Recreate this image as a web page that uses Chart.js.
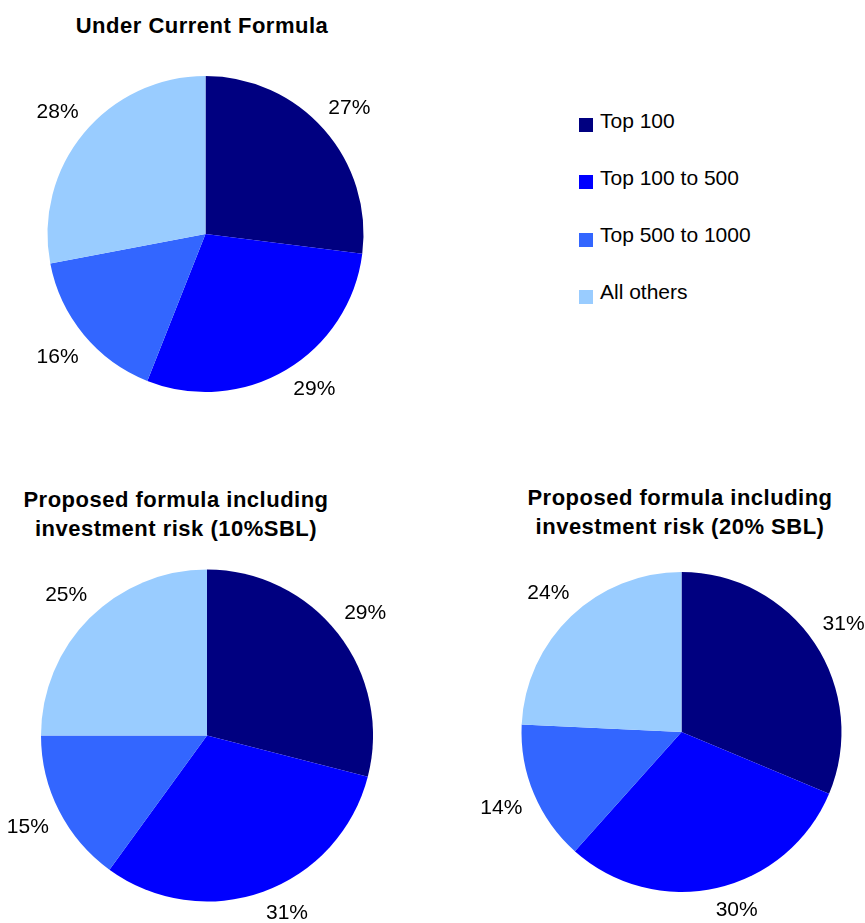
<!DOCTYPE html>
<html>
<head>
<meta charset="utf-8">
<script src="https://cdn.jsdelivr.net/npm/chart.js@4.4.1/dist/chart.umd.min.js"></script>
<style>
  html, body { margin: 0; padding: 0; background: #fff; width: 865px; height: 923px; overflow: hidden; }
  body { position: relative; font-family: "Liberation Sans", Arial, sans-serif; }
  .box { position: absolute; }
  .title { position: absolute; font-weight: bold; font-size: 22px; letter-spacing: 0.5px; color: #000; text-align: center; white-space: nowrap; transform: translateX(-50%); }
  .leg-sq { position: absolute; width: 14px; height: 14px; }
  .leg-tx { position: absolute; font-size: 21px; line-height: 21px; color: #000; white-space: nowrap; }
</style>
</head>
<body>
<div class="title" style="left:202px; top:15px; line-height:22px;">Under Current Formula</div>
<div class="title" style="left:176px; top:486px; line-height:28.5px;">Proposed formula including<br>investment risk (10%SBL)</div>
<div class="title" style="left:680px; top:484px; line-height:28.5px;">Proposed formula including<br>investment risk (20% SBL)</div>

<div id="legend"></div>

<div class="box" style="left:0px; top:0px; width:430px; height:440px;"><canvas id="c1"></canvas></div>
<div class="box" style="left:0px; top:440px; width:432px; height:483px;"><canvas id="c2"></canvas></div>
<div class="box" style="left:432px; top:440px; width:433px; height:483px;"><canvas id="c3"></canvas></div>

<script>
// ---- data ----
const categories = ["Top 100", "Top 100 to 500", "Top 500 to 1000", "All others"];
const currentFormula = [27, 29, 16, 28];
const proposed10SBL = [29, 31, 15, 25];
const proposed20SBL = [31, 30, 14, 24];
const sliceColors = ["#000080", "#0000FF", "#3366FF", "#99CCFF"];

// ---- legend (HTML) ----
const legend = document.getElementById('legend');
categories.forEach((name, i) => {
  const top = 118 + i * 57.3;
  const sq = document.createElement('div');
  sq.className = 'leg-sq';
  sq.style.left = '579px';
  sq.style.top = top + 'px';
  sq.style.background = sliceColors[i];
  legend.appendChild(sq);
  const tx = document.createElement('div');
  tx.className = 'leg-tx';
  tx.style.left = '600px';
  tx.style.top = (top - 8.5) + 'px';
  tx.textContent = name;
  legend.appendChild(tx);
});

// ---- outside labels plugin ----
const outsideLabels = {
  id: 'outsideLabels',
  afterDatasetsDraw(chart) {
    const ctx = chart.ctx;
    const meta = chart.getDatasetMeta(0);
    const values = chart.data.datasets[0].data;
    ctx.save();
    ctx.font = '21px "Liberation Sans", Arial, sans-serif';
    ctx.fillStyle = '#000';
    ctx.textAlign = 'center';
    ctx.textBaseline = 'middle';
    meta.data.forEach((arc, i) => {
      const p = arc.getProps(['x', 'y', 'startAngle', 'endAngle', 'outerRadius'], true);
      let mid = (p.startAngle + p.endAngle) / 2;
      if (Math.cos(mid) > 0 && Math.sin(mid) > 0.5) mid -= 0.0785;
      const ux = Math.cos(mid), uy = Math.sin(mid);
      const txt = values[i] + '%';
      const w = ctx.measureText(txt).width;
      const h = 15;
      const d = p.outerRadius + 13 + Math.abs(ux) * w / 2 + Math.abs(uy) * h / 2;
      ctx.fillText(txt, p.x + ux * d, p.y + uy * d + 0.5);
    });
    ctx.restore();
  }
};

function makePie(id, values, padding) {
  return new Chart(document.getElementById(id), {
    type: 'pie',
    data: {
      labels: categories,
      datasets: [{
        data: values,
        backgroundColor: sliceColors,
        borderWidth: 0,
        hoverOffset: 0
      }]
    },
    options: {
      responsive: true,
      maintainAspectRatio: false,
      animation: false,
      events: [],
      layout: { padding: padding },
      plugins: {
        legend: { display: false },
        title: { display: false },
        tooltip: { enabled: false }
      }
    },
    plugins: [outsideLabels]
  });
}

makePie('c1', currentFormula, { left: 47.5, top: 76, right: 66.5, bottom: 48 });
makePie('c2', proposed10SBL, { left: 41, top: 129.5, right: 59, bottom: 21.5 });
makePie('c3', proposed20SBL, { left: 89.5, top: 132, right: 23.5, bottom: 31 });
</script>
</body>
</html>
